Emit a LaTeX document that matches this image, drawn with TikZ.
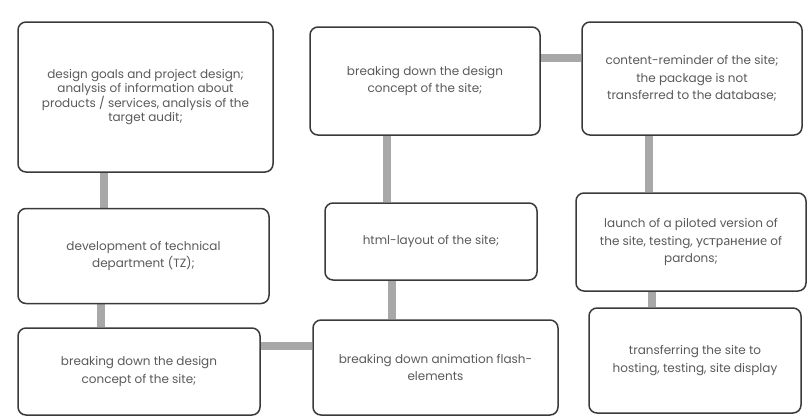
\documentclass[tikz,border=0pt]{standalone}
\usepackage{fontspec}
\setmainfont{Poppins}
\newfontfamily\cyrfont[Scale=1.12]{Lato}
\usetikzlibrary{backgrounds}
\definecolor{boxline}{HTML}{3A3A3A}
\definecolor{conncol}{HTML}{A8A8A8}
\definecolor{txtcol}{HTML}{5A5A5A}
\tikzset{
  box/.style={draw=boxline, line width=1.5pt, rounded corners=8pt, fill=white,
    align=center, text=txtcol, font=\fontsize{12}{17.5}\selectfont, inner sep=2pt},
  conn/.style={draw=conncol, line width=8pt}
}
\begin{document}
\begin{tikzpicture}[x=1pt,y=-1pt]
\useasboundingbox (0,0) rectangle (808,416);
\node[box, minimum width=255, minimum height=150, font=\fontsize{12}{14.5}\selectfont] (b1) at (145.5,97)
  {design goals and project design;\\analysis of information about\\products / services, analysis of the\\target audit;};
\node[box, minimum width=230, minimum height=108] (b2) at (425,81)
  {breaking down the design\\concept of the site;};
\node[box, minimum width=220, minimum height=113] (b3) at (692,78.5)
  {content-reminder of the site;\\the package is not\\transferred to the database;};
\node[box, minimum width=251, minimum height=95] (b4) at (143.5,256)
  {development of technical\\department (TZ);};
\node[box, minimum width=212, minimum height=77] (b5) at (431,241.5)
  {html-layout of the site;};
\node[box, minimum width=230, minimum height=98] (b6) at (691,242)
  {launch of a piloted version of\\the site, testing, {\cyrfont устранение} of\\pardons;};
\node[box, minimum width=242, minimum height=87] (b7) at (139,371.5)
  {breaking down the design\\concept of the site;};
\node[box, minimum width=245, minimum height=95] (b8) at (435.5,367.5)
  {breaking down animation flash-\\elements};
\node[box, minimum width=212, minimum height=105] (b9) at (695,360.5)
  {transferring the site to\\hosting, testing, site display};
\begin{scope}[on background layer]
  \draw[conn] ([xshift=-41.5pt]b1.south) -- ([xshift=-41.5pt]b1.south |- b4.north);
  \draw[conn] ([xshift=-42.5pt]b4.south) -- ([xshift=-42.5pt]b4.south |- b7.north);
  \draw[conn] ([yshift=25.5pt]b7.east) -- ([yshift=25.5pt]b7.east -| b8.west);
  \draw[conn] ([xshift=-43.5pt]b8.north) -- ([xshift=-43.5pt]b8.north |- b5.south);
  \draw[conn] ([xshift=-44pt]b5.north) -- ([xshift=-44pt]b5.north |- b2.south);
  \draw[conn] ([yshift=23pt]b2.east) -- ([yshift=23pt]b2.east -| b3.west);
  \draw[conn] ([xshift=-43pt]b3.south) -- ([xshift=-43pt]b3.south |- b6.north);
  \draw[conn] ([xshift=-39pt]b6.south) -- ([xshift=-39pt]b6.south |- b9.north);
\end{scope}
\end{tikzpicture}
\end{document}
